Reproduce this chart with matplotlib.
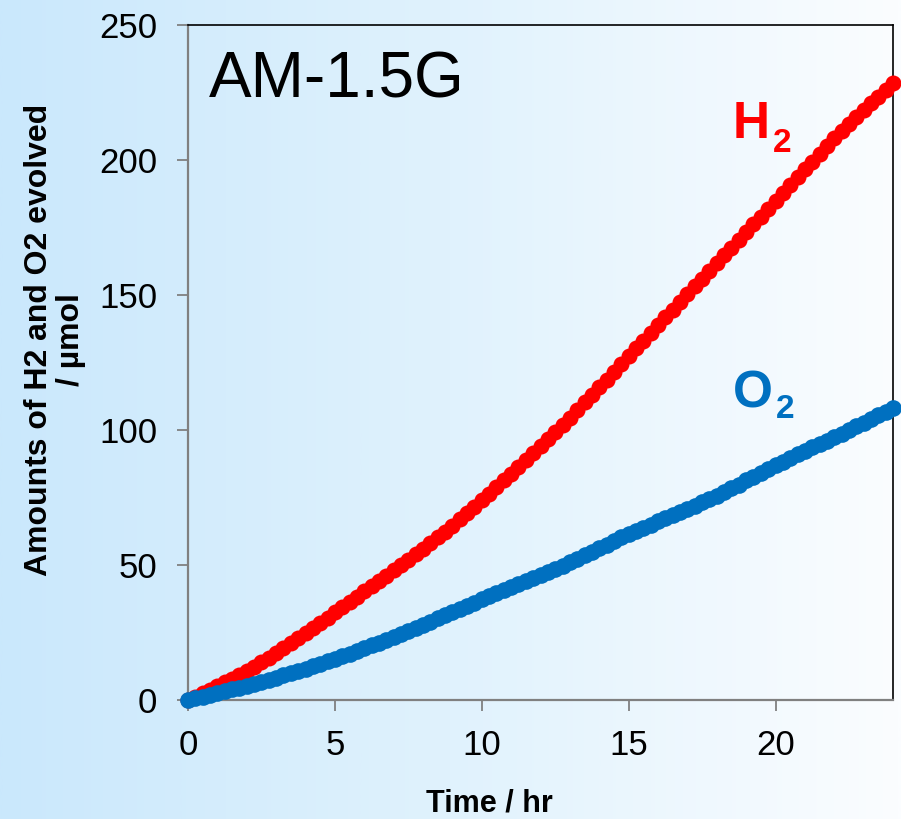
import numpy as np
import matplotlib
matplotlib.use("Agg")
import matplotlib.pyplot as plt
from matplotlib.colors import LinearSegmentedColormap

# Sampling times (minutes after start of irradiation), one row per hour
time_min = [
    0,
    15, 30, 45, 60,
    75, 90, 105, 120,
    135, 150, 165, 180,
    195, 210, 225, 240,
    255, 270, 285, 300,
    315, 330, 345, 360,
    375, 390, 405, 420,
    435, 450, 465, 480,
    495, 510, 525, 540,
    555, 570, 585, 600,
    615, 630, 645, 660,
    675, 690, 705, 720,
    735, 750, 765, 780,
    795, 810, 825, 840,
    855, 870, 885, 900,
    915, 930, 945, 960,
    975, 990, 1005, 1020,
    1035, 1050, 1065, 1080,
    1095, 1110, 1125, 1140,
    1155, 1170, 1185, 1200,
    1215, 1230, 1245, 1260,
    1275, 1290, 1305, 1320,
    1335, 1350, 1365, 1380,
    1395, 1410, 1425, 1440,
]

# Evolved H2 (umol)
h2_umol = [
    0.0,
    1.2, 2.5, 3.8, 5.2,
    6.5, 7.9, 9.3, 10.8,
    12.4, 14.0, 15.6, 17.3,
    19.1, 21.0, 22.9, 24.8,
    26.7, 28.6, 30.5, 32.5,
    34.4, 36.3, 38.2, 40.2,
    42.1, 44.1, 46.0, 48.0,
    50.0, 52.0, 54.0, 56.0,
    58.1, 60.2, 62.4, 64.6,
    66.9, 69.2, 71.6, 74.0,
    76.4, 78.8, 81.3, 83.8,
    86.3, 88.8, 91.4, 94.0,
    96.6, 99.3, 101.9, 104.6,
    107.4, 110.2, 113.0, 115.8,
    118.7, 121.5, 124.4, 127.3,
    130.2, 133.0, 135.9, 138.8,
    141.7, 144.5, 147.4, 150.3,
    153.2, 156.0, 158.9, 161.8,
    164.7, 167.5, 170.4, 173.3,
    176.2, 179.0, 181.9, 184.8,
    187.7, 190.7, 193.6, 196.5,
    199.4, 202.3, 205.1, 208.0,
    210.7, 213.4, 216.0, 218.5,
    221.0, 223.5, 226.0, 228.5,
]

# Evolved O2 (umol)
o2_umol = [
    0.0,
    0.6, 1.2, 1.9, 2.5,
    3.2, 3.9, 4.5, 5.2,
    6.0, 6.7, 7.5, 8.3,
    9.1, 9.9, 10.8, 11.6,
    12.5, 13.4, 14.4, 15.3,
    16.3, 17.2, 18.2, 19.2,
    20.2, 21.2, 22.3, 23.3,
    24.4, 25.5, 26.7, 27.8,
    29.0, 30.2, 31.4, 32.6,
    33.8, 34.9, 36.1, 37.3,
    38.4, 39.5, 40.7, 41.8,
    42.9, 44.0, 45.1, 46.2,
    47.4, 48.6, 49.8, 51.0,
    52.3, 53.6, 54.9, 56.2,
    57.5, 58.9, 60.2, 61.5,
    62.7, 63.8, 65.0, 66.2,
    67.3, 68.5, 69.6, 70.8,
    72.0, 73.2, 74.4, 75.6,
    77.0, 78.4, 79.8, 81.3,
    82.7, 84.2, 85.6, 87.0,
    88.3, 89.7, 91.0, 92.3,
    93.6, 94.9, 96.1, 97.4,
    98.7, 100.0, 101.4, 102.7,
    104.0, 105.4, 106.7, 108.0,
]

x_ticks = [0, 5, 10, 15, 20]
y_ticks = [0, 50, 100, 150, 200, 250]

H2_COLOR = "#FF0000"
O2_COLOR = "#0070C0"
AXIS_GRAY = "#808080"

plt.rcParams["font.family"] = ["Liberation Sans", "DejaVu Sans"]

W, H = 901, 819
fig = plt.figure(figsize=(W / 100, H / 100), dpi=100)

# Horizontal light-blue to white background
bg = fig.add_axes([0, 0, 1, 1], zorder=0)
grad = np.linspace(0, 1, 512).reshape(1, -1)
cmap = LinearSegmentedColormap.from_list("bg", ["#cae8fc", "#e0f2fd", "#fbfdff"])
bg.imshow(grad, aspect="auto", cmap=cmap, extent=[0, 1, 0, 1])
bg.axis("off")

ax = fig.add_axes([188 / W, 1 - 700 / H, 705 / W, 675 / H], zorder=1)
ax.set_facecolor("none")

t_hr = np.asarray(time_min) / 60.0
ax.plot(t_hr, h2_umol, ls="none", marker="o", ms=11.5, mew=0,
        color=H2_COLOR, clip_on=False, zorder=3)
ax.plot(t_hr, o2_umol, ls="none", marker="o", ms=12, mew=0,
        color=O2_COLOR, clip_on=False, zorder=4)

ax.set_xlim(0, 24)
ax.set_ylim(0, 250)
ax.set_xticks(x_ticks)
ax.set_yticks(y_ticks)

for side in ("left", "bottom"):
    ax.spines[side].set_color(AXIS_GRAY)
    ax.spines[side].set_linewidth(1.6)
for side in ("top", "right"):
    ax.spines[side].set_color("black")
    ax.spines[side].set_linewidth(1.2)

ax.tick_params(axis="both", direction="out", length=8, width=1.3,
               color=AXIS_GRAY, labelsize=25, labelcolor="black")
ax.tick_params(axis="y", pad=14)
ax.tick_params(axis="x", pad=13)

# Panel title and series labels
ax.text(0.72, 223.3, "AM-1.5G", fontsize=46, color="black",
        ha="left", va="baseline")
ax.text(18.55, 208.0, "H", fontsize=37, fontweight="bold", color=H2_COLOR,
        ha="left", va="baseline")
ax.text(19.9, 203.0, "2", fontsize=24, fontweight="bold", color=H2_COLOR,
        ha="left", va="baseline")
ax.text(18.55, 108.5, "O", fontsize=37, fontweight="bold", color=O2_COLOR,
        ha="left", va="baseline")
ax.text(20.0, 104.4, "2", fontsize=24, fontweight="bold", color=O2_COLOR,
        ha="left", va="baseline")

# Axis titles
fig.text(489 / W, 1 - 812 / H, "Time / hr", fontsize=22, fontweight="bold",
         ha="center", va="baseline")
fig.text(55 / W, 1 - 340 / H, "Amounts of H2 and O2 evolved\n/ µmol",
         fontsize=23, fontweight="bold", rotation=90,
         ha="center", va="center", multialignment="center", linespacing=1.1)

fig.savefig("out.png", dpi=100)
